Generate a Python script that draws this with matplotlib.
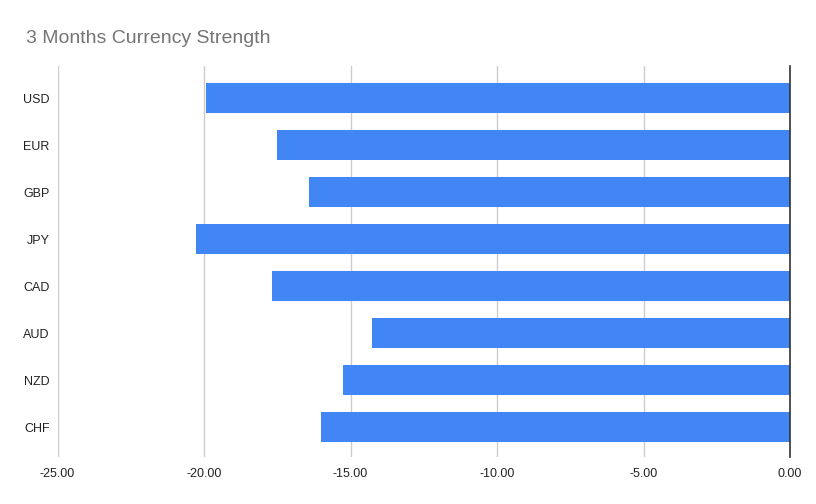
import matplotlib.pyplot as plt
from matplotlib.ticker import FuncFormatter

# Currency strength values over 3 months
currencies = ["USD", "EUR", "GBP", "JPY", "CAD", "AUD", "NZD", "CHF"]
strength = [-19.94, -17.52, -16.43, -20.29, -17.69, -14.28, -15.24, -16.02]
x_ticks = [-25, -20, -15, -10, -5, 0]

plt.rcParams['font.family'] = ['Liberation Sans', 'DejaVu Sans']

fig = plt.figure(figsize=(8.16, 5.04), dpi=100)
W, H = 816, 504
ax = fig.add_axes([57.5 / W, 1 - 457 / H, (790 - 57.5) / W, (457 - 66) / H])

ypos = list(range(len(currencies)))
ax.barh(ypos, strength, height=0.65, color="#4285F4", zorder=2)

ax.set_xlim(-25, 0)
ax.set_ylim(7.638, -0.681)
ax.set_xticks(x_ticks)
ax.xaxis.set_major_formatter(FuncFormatter(lambda v, p: f"{v:.2f}"))
ax.set_yticks(ypos)
ax.set_yticklabels(currencies)

ax.grid(axis="x", color="#cccccc", linewidth=1, zorder=0)
ax.axvline(0, color="#333333", linewidth=1.2, zorder=3, clip_on=False)
for s in ax.spines.values():
    s.set_visible(False)
ax.tick_params(length=0, labelsize=9, colors="#222222")
ax.tick_params(axis="y", pad=5.5)
ax.tick_params(axis="x", pad=8)

fig.text(26 / W, 1 - 43.3 / H, "3 Months Currency Strength", fontsize=14,
         color="#757575", ha="left", va="baseline")

fig.savefig("out.png", dpi=100, facecolor="white")
